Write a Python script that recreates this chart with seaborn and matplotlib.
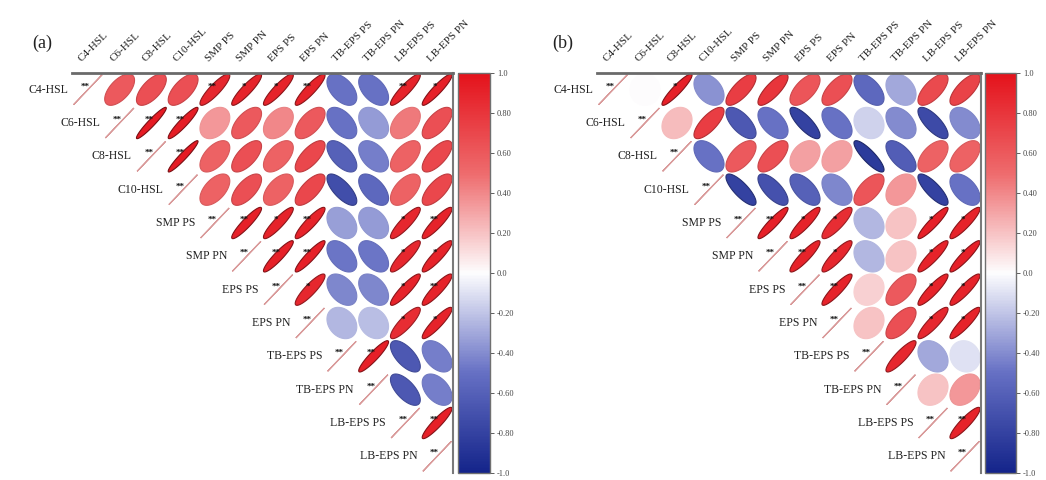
import numpy as np
import pandas as pd
import matplotlib
matplotlib.use("Agg")
import matplotlib.pyplot as plt
from matplotlib.colors import LinearSegmentedColormap, to_rgb
from matplotlib.patches import Polygon
import seaborn as sns

labels = ["C4-HSL", "C6-HSL", "C8-HSL", "C10-HSL", "SMP PS", "SMP PN",
          "EPS PS", "EPS PN", "TB-EPS PS", "TB-EPS PN", "LB-EPS PS", "LB-EPS PN"]

# upper triangle, each row starts at the diagonal
corr_a_rows = [
    [1.00, 0.60, 0.65, 0.65, 0.88, 0.90, 0.90, 0.90, -0.50, -0.50, 0.90, 0.92],
    [1.00, 0.95, 0.93, 0.35, 0.60, 0.40, 0.60, -0.50, -0.35, 0.45, 0.65],
    [1.00, 0.95, 0.55, 0.65, 0.55, 0.70, -0.60, -0.45, 0.55, 0.70],
    [1.00, 0.55, 0.65, 0.55, 0.70, -0.72, -0.55, 0.55, 0.70],
    [1.00, 0.92, 0.90, 0.90, -0.33, -0.35, 0.88, 0.90],
    [1.00, 0.92, 0.92, -0.48, -0.48, 0.88, 0.90],
    [1.00, 0.88, -0.42, -0.42, 0.90, 0.90],
    [1.00, -0.25, -0.22, 0.85, 0.90],
    [1.00, 0.92, -0.65, -0.45],
    [1.00, -0.65, -0.45],
    [1.00, 0.92],
    [1.00],
]
sig_a_rows = [
    ["**", "", "", "", "**", "*", "*", "**", "", "", "**", "*"],
    ["**", "**", "**", "", "", "", "", "", "", "", ""],
    ["**", "**", "", "", "", "", "", "", "", ""],
    ["**", "", "", "", "", "", "", "", ""],
    ["**", "**", "*", "**", "", "", "*", "**"],
    ["**", "**", "**", "", "", "*", "*"],
    ["**", "*", "", "", "*", "**"],
    ["**", "", "", "*", "*"],
    ["**", "**", "", ""],
    ["**", "", ""],
    ["**", "**"],
    ["**"],
]

corr_b_rows = [
    [1.00, 0.00, 0.92, -0.38, 0.75, 0.80, 0.62, 0.65, -0.55, -0.30, 0.68, 0.72],
    [1.00, 0.22, 0.75, -0.65, -0.50, -0.80, -0.50, -0.15, -0.40, -0.75, -0.40],
    [1.00, -0.50, 0.60, 0.65, 0.32, 0.32, -0.85, -0.62, 0.55, 0.55],
    [1.00, -0.80, -0.70, -0.60, -0.42, 0.62, 0.35, -0.80, -0.50],
    [1.00, 0.92, 0.90, 0.85, -0.25, 0.20, 0.92, 0.90],
    [1.00, 0.90, 0.88, -0.25, 0.20, 0.90, 0.92],
    [1.00, 0.90, 0.15, 0.60, 0.90, 0.90],
    [1.00, 0.20, 0.65, 0.88, 0.90],
    [1.00, 0.88, -0.30, -0.10],
    [1.00, 0.20, 0.35],
    [1.00, 0.90],
    [1.00],
]
sig_b_rows = [
    ["**", "", "*", "", "", "", "", "", "", "", "", ""],
    ["**", "", "", "", "", "", "", "", "", "", ""],
    ["**", "", "", "", "", "", "", "", "", ""],
    ["**", "", "", "", "", "", "", "", ""],
    ["**", "**", "*", "*", "", "", "*", "*"],
    ["**", "**", "*", "", "", "*", "*"],
    ["**", "**", "", "", "*", "*"],
    ["**", "", "", "*", "*"],
    ["**", "", "", ""],
    ["**", "", ""],
    ["**", "**"],
    ["**"],
]

tick_vals = [-1.0, -0.8, -0.6, -0.4, -0.2, 0.0, 0.2, 0.4, 0.6, 0.8, 1.0]
tick_text = ["-1.0", "-0.80", "-0.60", "-0.40", "-0.20", "0.0",
             "0.20", "0.40", "0.60", "0.80", "1.0"]


def to_matrix(rows):
    n = len(labels)
    m = np.full((n, n), np.nan)
    for i, row in enumerate(rows):
        m[i, i:] = row
    return pd.DataFrame(m, index=labels, columns=labels)


cmap = LinearSegmentedColormap.from_list(
    "bwr_corr",
    [(0.0, "#14248a"), (0.25, "#6670c4"), (0.5, "#fdfdfe"),
     (0.75, "#ee6b6d"), (1.0, "#e4121b")])

sns.set_theme(style="white")
plt.rcParams["font.family"] = ["Liberation Serif", "DejaVu Serif"]

fig = plt.figure(figsize=(10.46, 4.8), dpi=100)
W, H = 1046, 480


def px_axes(x0, x1, y0, y1):
    return fig.add_axes([x0 / W, 1 - y1 / H, (x1 - x0) / W, (y1 - y0) / H])


def ellipse_pts(r, cx, cy, n=80, s=0.47):
    t = np.linspace(0, 2 * np.pi, n)
    d = np.arccos(np.clip(r, -1, 1))
    dx = s * np.cos(t + d / 2)
    dy = s * np.cos(t - d / 2)
    return np.column_stack([cx + dx, cy - dy])


def draw_panel(ax, cax, rows, sigs, tag, tag_x):
    df = to_matrix(rows)
    sns.heatmap(df, mask=np.ones(df.shape, dtype=bool), cmap=cmap, vmin=-1, vmax=1,
                ax=ax, cbar_ax=cax, xticklabels=False, yticklabels=False)
    n = len(labels)
    for i in range(n):
        for j in range(i, n):
            r = df.iloc[i, j]
            cx, cy = j + 0.5, i + 0.5
            if i == j:
                ax.add_patch(Polygon(ellipse_pts(r, cx, cy, s=0.45), closed=True,
                                     facecolor="none", edgecolor="#d99a9a", lw=0.9))
            else:
                fc = cmap((r + 1) / 2)
                ec = tuple(np.array(to_rgb(fc)) * (1 - 0.55 * abs(r) ** 3))
                ax.add_patch(Polygon(ellipse_pts(r, cx, cy), closed=True,
                                     facecolor=fc, edgecolor=ec, lw=0.8))
            s = sigs[i][j - i]
            if s:
                ax.text(cx - 0.08, cy - 0.1, s, ha="center", va="center",
                        fontsize=6.5, color="#111111", fontweight="bold")
    for j, lab in enumerate(labels):
        ax.text(j + 0.3, -0.32, lab, rotation=45, ha="left", va="baseline",
                rotation_mode="anchor", fontsize=8, color="#222222", clip_on=False)
    for i, lab in enumerate(labels):
        ax.text(i - 0.12, i + 0.5, lab, ha="right", va="center",
                fontsize=8.5, color="#222222", clip_on=False)
    ax.set_xticks([])
    ax.set_yticks([])
    for side in ["left", "bottom"]:
        ax.spines[side].set_visible(False)
    ax.spines["top"].set_visible(True)
    ax.spines["top"].set_color("#6a6a6a")
    ax.spines["top"].set_linewidth(2.0)
    ax.spines["right"].set_visible(True)
    ax.spines["right"].set_color("#7a7a7a")
    ax.spines["right"].set_linewidth(1.5)

    cbar = ax.collections[0].colorbar
    cbar.set_ticks(tick_vals)
    cbar.set_ticklabels(tick_text)
    cbar.ax.tick_params(labelsize=6, length=3, width=0.6, colors="#444444", pad=2)
    cbar.outline.set_edgecolor("#707070")
    cbar.outline.set_linewidth(1.0)
    fig.text(tag_x / W, 1 - 43 / H, tag, ha="center", va="center", fontsize=13,
             color="#222222")


ax_a = px_axes(72, 453, 73, 473)
cax_a = px_axes(458, 490, 73, 473)
ax_b = px_axes(597, 981, 73, 473)
cax_b = px_axes(985, 1016, 73, 473)

draw_panel(ax_a, cax_a, corr_a_rows, sig_a_rows, "(a)", 42)
draw_panel(ax_b, cax_b, corr_b_rows, sig_b_rows, "(b)", 563)

fig.savefig("out.png", dpi=100)
